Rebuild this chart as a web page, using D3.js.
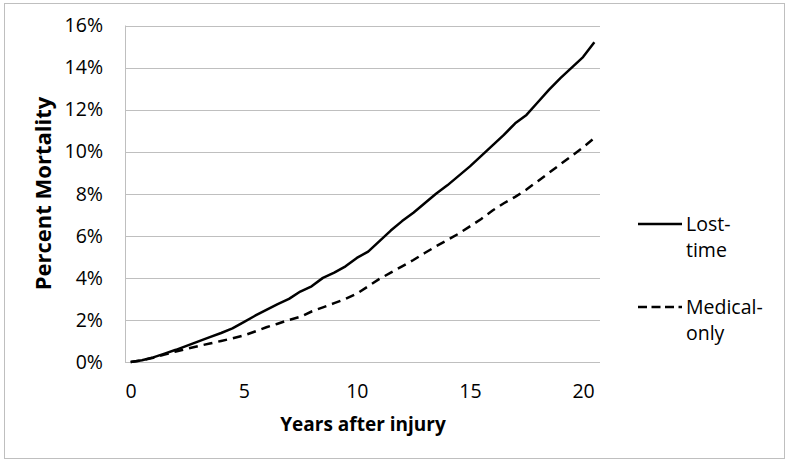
<!DOCTYPE html>
<html><head><meta charset="utf-8">
<script src="https://cdn.jsdelivr.net/npm/d3@7"></script>
<style>body{margin:0;background:#fff}svg{display:block}text{font-family:"Open Sans",sans-serif;fill:#000}</style>
</head><body><svg id="c" width="789" height="464"></svg>
<script>
const years = d3.range(0, 20.51, 0.5);
const lostTime = [0,0.08,0.22,0.4,0.58,0.78,0.98,1.18,1.38,1.6,1.9,2.2,2.48,2.75,3.0,3.35,3.6,4.0,4.25,4.55,4.95,5.25,5.75,6.25,6.7,7.1,7.55,8.0,8.4,8.85,9.3,9.8,10.3,10.8,11.35,11.75,12.35,12.95,13.5,14.0,14.5,15.2];
const medicalOnly = [0,0.08,0.2,0.35,0.5,0.63,0.76,0.88,1.0,1.12,1.26,1.45,1.65,1.82,2.0,2.15,2.4,2.6,2.8,3.0,3.25,3.6,3.95,4.25,4.55,4.85,5.18,5.5,5.8,6.1,6.45,6.8,7.2,7.55,7.85,8.2,8.6,9.0,9.4,9.8,10.2,10.65];
const xTicks = [0,5,10,15,20];
const yTicks = [0,2,4,6,8,10,12,14,16];
const seriesNames = ["Lost-time","Medical-only"];

const svg = d3.select("#c");
svg.append("rect").attr("x",4.5).attr("y",3.5).attr("width",780).attr("height",455).attr("fill","#fff").attr("stroke","#bfbfbf");

const L=125, R=600, T=25.5, B=362;
const x = d3.scaleLinear().domain([-0.25,20.75]).range([L,R]);
const y = d3.scaleLinear().domain([0,16]).range([B,T]);

svg.append("g").selectAll("line").data(yTicks.filter(d=>d>0)).join("line")
  .attr("x1",L).attr("x2",R).attr("y1",d=>Math.round(y(d))+0.5).attr("y2",d=>Math.round(y(d))+0.5)
  .attr("stroke","#bfbfbf").attr("stroke-width",1);
svg.append("line").attr("x1",L+0.5).attr("x2",L+0.5).attr("y1",T).attr("y2",B).attr("stroke","#bfbfbf");
svg.append("line").attr("x1",L).attr("x2",R).attr("y1",B+0.5).attr("y2",B+0.5).attr("stroke","#bfbfbf");

const yAxis = d3.axisLeft(y).tickValues(yTicks).tickSize(0).tickPadding(22).tickFormat(d=>d+"%");
const gy = svg.append("g").attr("transform",`translate(${L},0)`).call(yAxis);
gy.select(".domain").remove();
gy.selectAll("text").style("font-size","19.5px").style("font-family","'Open Sans',sans-serif").attr("fill","#000");

const xAxis = d3.axisBottom(x).tickValues(xTicks).tickSize(0).tickPadding(22).tickFormat(d=>d);
const gx = svg.append("g").attr("transform",`translate(0,${B})`).call(xAxis);
gx.select(".domain").remove();
gx.selectAll("text").style("font-size","19.5px").style("font-family","'Open Sans',sans-serif").attr("fill","#000");

svg.append("text").attr("x",363).attr("y",431).attr("text-anchor","middle")
  .style("font-size","19px").style("font-weight","bold").text("Years after injury");
svg.append("text").attr("transform","translate(51,193.5) rotate(-90)").attr("text-anchor","middle")
  .style("font-size","22px").style("font-weight","bold").text("Percent Mortality");

const line = d3.line().x((d,i)=>x(years[i])).y(d=>y(d));
svg.append("path").datum(lostTime).attr("d",line).attr("fill","none").attr("stroke","#000").attr("stroke-width",2.5).attr("stroke-linejoin","round");
svg.append("path").datum(medicalOnly).attr("d",line).attr("fill","none").attr("stroke","#000").attr("stroke-width",2.5).attr("stroke-dasharray","9,6");

const leg = [{name:seriesNames[0],dash:null,y:224,lines:["Lost-","time"]},{name:seriesNames[1],dash:"9,4.5",y:307,lines:["Medical-","only"]}];
leg.forEach(l=>{
  svg.append("line").attr("x1",638).attr("x2",682).attr("y1",l.y).attr("y2",l.y).attr("stroke","#000").attr("stroke-width",2.5).attr("stroke-dasharray",l.dash);
  const t = svg.append("text").attr("x",686).attr("y",l.y+7).style("font-size","19.5px");
  l.lines.forEach((s,i)=>t.append("tspan").attr("x",686).attr("dy",i?26:0).text(s));
});
</script></body></html>
